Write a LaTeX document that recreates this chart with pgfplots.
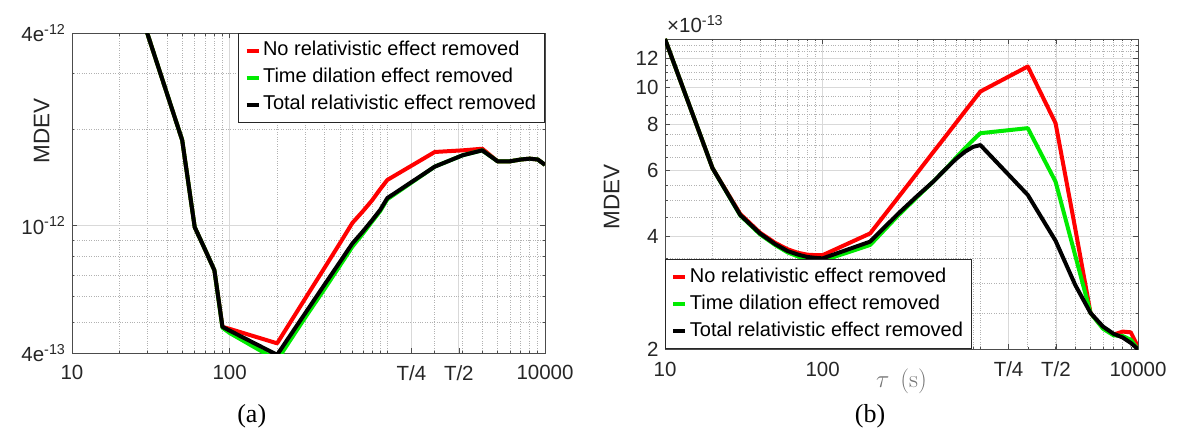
\documentclass[border=0pt]{standalone}
\usepackage[no-math]{fontspec}
\setmainfont{Liberation Sans}
\newfontfamily\seriffont{Liberation Serif}
\usepackage{pgfplots}
\usepackage{pgfplotstable}
\pgfplotsset{compat=1.18}
\definecolor{axgray}{RGB}{38,38,38}
\definecolor{mred}{RGB}{255,0,0}
\definecolor{mgreen}{RGB}{0,235,0}

\pgfplotsset{
    scale only axis, width=473pt,
    xmin=10, xmax=10000,
    axis line style={draw=black!70, line width=0.8pt},
    tick align=inside,
    major tick length=5pt, minor tick length=2.5pt,
    tick style={black!70, line width=0.6pt},
    grid=both,
    major grid style={draw=black!15, line width=0.8pt},
    minor grid style={draw=black!30, dotted, line width=0.7pt},
    tick label style={font=\fontsize{20.5}{24}\selectfont, text=axgray},
    label style={font=\fontsize{22.5}{26}\selectfont, text=axgray},
    legend style={font=\fontsize{20}{24}\selectfont, draw=black!85, line width=0.8pt, fill=white,
      inner sep=6pt, row sep=4pt, nodes={inner sep=2.5pt, text height=14pt, text depth=4pt}},
    legend cell align=left,
    legend image code/.code={\draw[#1, line width=4pt] (0pt,0pt) -- (12pt,0pt);},
    every axis plot/.append style={line width=4pt, line join=round},
    clip mode=individual,
    xticklabel style={yshift=-9pt},
    yticklabel style={xshift=-3pt},
}

\pgfplotstableread{
tau   red      green    black
10    2.0e-11  2.0e-11  2.0e-11
20    7.4e-12  7.4e-12  7.4e-12
30    4.0e-12  4.0e-12  4.0e-12
40    2.59e-12 2.59e-12 2.59e-12
50    1.85e-12 1.85e-12 1.85e-12
60    9.9e-13  9.9e-13  9.9e-13
70    8.4e-13  8.4e-13  8.4e-13
80    7.26e-13 7.26e-13 7.26e-13
90    4.83e-13 4.80e-13 4.83e-13
100   4.76e-13 4.62e-13 4.70e-13
200   4.29e-13 3.80e-13 3.95e-13
300   5.90e-13 5.15e-13 5.31e-13
400   7.39e-13 6.35e-13 6.55e-13
500   8.81e-13 7.50e-13 7.70e-13
600   1.02e-12 8.60e-13 8.80e-13
700   1.11e-12 9.45e-13 9.60e-13
800   1.20e-12 1.03e-12 1.04e-12
900   1.30e-12 1.11e-12 1.12e-12
1000  1.39e-12 1.21e-12 1.22e-12
2000  1.70e-12 1.53e-12 1.53e-12
3000  1.72e-12 1.66e-12 1.66e-12
4000  1.74e-12 1.72e-12 1.72e-12
5000  1.59e-12 1.59e-12 1.59e-12
6000  1.59e-12 1.59e-12 1.59e-12
7000  1.61e-12 1.61e-12 1.61e-12
8000  1.62e-12 1.62e-12 1.62e-12
9000  1.61e-12 1.61e-12 1.61e-12
10000 1.55e-12 1.55e-12 1.55e-12
}\dataA

% values in units of 1e-13
\pgfplotstableread{
tau   red    green  black
10    13.5   13.5   13.5
20    6.10   6.10   6.10
30    4.60   4.56   4.57
40    4.10   4.06   4.08
50    3.85   3.80   3.82
60    3.70   3.63   3.66
70    3.62   3.54   3.58
80    3.58   3.49   3.53
90    3.57   3.46   3.51
100   3.57   3.45   3.50
200   4.08   3.80   3.88
300   5.08   4.55   4.60
400   5.94   5.12   5.15
500   6.71   5.60   5.60
600   7.40   6.05   6.05
700   8.05   6.50   6.45
800   8.66   6.90   6.75
900   9.23   7.25   6.95
1000  9.77   7.56   7.03
2000  11.4   7.80   5.17
3000  8.04   5.61   3.90
4000  4.20   3.56   2.97
5000  2.50   2.50   2.50
6000  2.28   2.27   2.30
7000  2.19   2.18   2.20
8000  2.23   2.17   2.15
9000  2.22   2.12   2.08
10000 2.03   2.00   2.00
}\dataB

\begin{document}
\begin{tikzpicture}[x=1pt,y=1pt]
\useasboundingbox (0,0) rectangle (1177,433);

\begin{axis}[
  xmode=log, ymode=log,
  at={(72pt,80pt)}, anchor=south west, height=320pt,
  ymin=4e-13, ymax=4e-12,
  xtick={10,100,1420,2840,10000},
  xticklabels={10,100,T/4,T/2,10000},
  minor xtick={20,30,40,50,60,70,80,90,200,300,400,500,600,700,800,900,1000,2000,3000,4000,5000,6000,7000,8000,9000},
  ytick={4e-13,1e-12,4e-12},
  yticklabels={4e\textsuperscript{-13},10\textsuperscript{-12},4e\textsuperscript{-12}},
  minor ytick={5e-13,6e-13,7e-13,8e-13,9e-13,2e-12,3e-12},
  ylabel={MDEV},
  ylabel style={at={(axis description cs:-0.064,0.694)}, anchor=center},
  legend style={at={(1,1)}, anchor=north east},
]
\addplot[mred] table[x=tau,y=red] {\dataA};
\addlegendentry{No relativistic effect removed}
\addplot[mgreen] table[x=tau,y=green] {\dataA};
\addlegendentry{Time dilation effect removed}
\addplot[black] table[x=tau,y=black] {\dataA};
\addlegendentry{Total relativistic effect removed}
\node[font=\seriffont\fontsize{26}{30}\selectfont, text=black] at (rel axis cs:0.38,-0.199) {(a)};
\end{axis}

\begin{axis}[
  xmode=log, ymode=log,
  at={(665pt,83.7pt)}, anchor=south west, height=310.3pt,
  ymin=2, ymax=13.5,
  xtick={10,100,1510,3020,10000},
  xticklabels={10,100,T/4,T/2,10000},
  minor xtick={20,30,40,50,60,70,80,90,200,300,400,500,600,700,800,900,1000,2000,3000,4000,5000,6000,7000,8000,9000},
  ytick={2,4,6,8,10,12},
  yticklabels={2,4,6,8,10,12},
  minor ytick={2.5,3,3.5,4.5,5,5.5,6.5,7,7.5,8.5,9,9.5,10.5,11,11.5,12.5,13},
  ylabel={MDEV},
  ylabel style={at={(axis description cs:-0.1127,0.492)}, anchor=center},
  legend style={at={(0,0)}, anchor=south west},
]
\addplot[mred] table[x=tau,y=red] {\dataB};
\addlegendentry{No relativistic effect removed}
\addplot[mgreen] table[x=tau,y=green] {\dataB};
\addlegendentry{Time dilation effect removed}
\addplot[black] table[x=tau,y=black] {\dataB};
\addlegendentry{Total relativistic effect removed}
\node[font=\fontsize{20.5}{24}\selectfont, text=axgray, anchor=base west, inner sep=0pt] at ([xshift=2pt,yshift=6pt]rel axis cs:0,1) {×10\textsuperscript{-13}};
\node[font=\fontsize{26}{30}\selectfont, text=black!55, anchor=center] at (rel axis cs:0.5,-0.104) {$\tau\;\,(\mathrm{s})$};
\node[font=\seriffont\fontsize{26}{30}\selectfont, text=black] at (rel axis cs:0.4334,-0.217) {(b)};
\end{axis}
\end{tikzpicture}
\end{document}
